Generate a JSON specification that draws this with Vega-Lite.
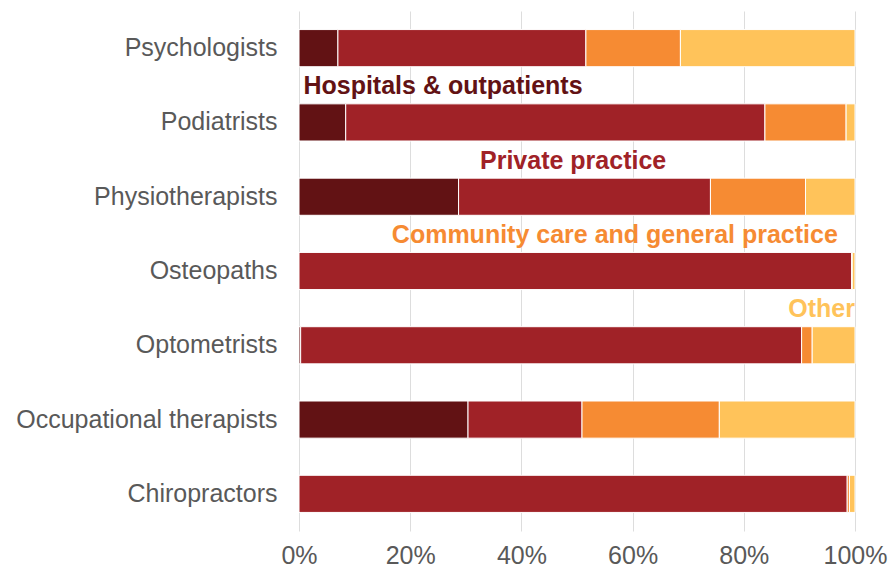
{
  "$schema": "https://vega.github.io/schema/vega-lite/v6.json",
  "width": 556,
  "height": 520,
  "autosize": {"type": "none"},
  "padding": {"left": 299, "top": 11, "right": 35, "bottom": 40},
  "background": "white",
  "config": {
    "view": {"stroke": null},
    "font": "Liberation Sans",
    "axis": {"labelFont": "Liberation Sans", "labelColor": "#595959", "labelFontSize": 25}
  },
  "datasets": {
    "bars": [
      {"profession": "Psychologists", "category": "Hospitals & outpatients", "ord": 1, "value": 7.0},
      {"profession": "Psychologists", "category": "Private practice", "ord": 2, "value": 44.6},
      {"profession": "Psychologists", "category": "Community care and general practice", "ord": 3, "value": 17.0},
      {"profession": "Psychologists", "category": "Other", "ord": 4, "value": 31.4},
      {"profession": "Podiatrists", "category": "Hospitals & outpatients", "ord": 1, "value": 8.4},
      {"profession": "Podiatrists", "category": "Private practice", "ord": 2, "value": 75.4},
      {"profession": "Podiatrists", "category": "Community care and general practice", "ord": 3, "value": 14.6},
      {"profession": "Podiatrists", "category": "Other", "ord": 4, "value": 1.6},
      {"profession": "Physiotherapists", "category": "Hospitals & outpatients", "ord": 1, "value": 28.7},
      {"profession": "Physiotherapists", "category": "Private practice", "ord": 2, "value": 45.3},
      {"profession": "Physiotherapists", "category": "Community care and general practice", "ord": 3, "value": 17.1},
      {"profession": "Physiotherapists", "category": "Other", "ord": 4, "value": 8.9},
      {"profession": "Osteopaths", "category": "Hospitals & outpatients", "ord": 1, "value": 0},
      {"profession": "Osteopaths", "category": "Private practice", "ord": 2, "value": 99.4},
      {"profession": "Osteopaths", "category": "Community care and general practice", "ord": 3, "value": 0.1},
      {"profession": "Osteopaths", "category": "Other", "ord": 4, "value": 0.5},
      {"profession": "Optometrists", "category": "Hospitals & outpatients", "ord": 1, "value": 0.3},
      {"profession": "Optometrists", "category": "Private practice", "ord": 2, "value": 90.1},
      {"profession": "Optometrists", "category": "Community care and general practice", "ord": 3, "value": 1.9},
      {"profession": "Optometrists", "category": "Other", "ord": 4, "value": 7.7},
      {"profession": "Occupational therapists", "category": "Hospitals & outpatients", "ord": 1, "value": 30.4},
      {"profession": "Occupational therapists", "category": "Private practice", "ord": 2, "value": 20.5},
      {"profession": "Occupational therapists", "category": "Community care and general practice", "ord": 3, "value": 24.7},
      {"profession": "Occupational therapists", "category": "Other", "ord": 4, "value": 24.4},
      {"profession": "Chiropractors", "category": "Hospitals & outpatients", "ord": 1, "value": 0},
      {"profession": "Chiropractors", "category": "Private practice", "ord": 2, "value": 98.6},
      {"profession": "Chiropractors", "category": "Community care and general practice", "ord": 3, "value": 0.4},
      {"profession": "Chiropractors", "category": "Other", "ord": 4, "value": 1.0}
    ],
    "labels": [
      {"category": "Hospitals & outpatients", "profession": "Podiatrists", "pos": 25.9},
      {"category": "Private practice", "profession": "Physiotherapists", "pos": 49.3},
      {"category": "Community care and general practice", "profession": "Osteopaths", "pos": 56.8},
      {"category": "Other", "profession": "Optometrists", "pos": 94.0}
    ]
  },
  "layer": [
    {
      "data": {"name": "bars"},
      "mark": {"type": "bar", "stroke": "white", "strokeWidth": 1},
      "encoding": {
        "y": {
          "field": "profession", "type": "nominal",
          "sort": ["Psychologists", "Podiatrists", "Physiotherapists", "Osteopaths", "Optometrists", "Occupational therapists", "Chiropractors"],
          "scale": {"paddingInner": 0.5, "paddingOuter": 0.25},
          "axis": {"title": null, "ticks": false, "domain": false, "labelPadding": 22, "labelFontSize": 25, "labelLimit": 400}
        },
        "x": {
          "field": "value", "type": "quantitative", "stack": "zero",
          "scale": {"domain": [0, 100], "nice": false},
          "axis": {"title": null, "values": [0, 20, 40, 60, 80, 100], "labelExpr": "datum.value + '%'", "ticks": false, "domain": false, "grid": true, "gridColor": "#dddddd", "labelPadding": 12, "labelFontSize": 25, "labelFlush": false}
        },
        "color": {
          "field": "category", "type": "nominal",
          "scale": {"domain": ["Hospitals & outpatients", "Private practice", "Community care and general practice", "Other"], "range": ["#621214", "#a02227", "#f68b33", "#ffc35a"]},
          "legend": null
        },
        "order": {"field": "ord", "type": "quantitative"}
      }
    },
    {
      "data": {"name": "labels"},
      "mark": {"type": "text", "fontWeight": "bold", "fontSize": 25, "align": "center", "baseline": "middle", "dy": 1},
      "encoding": {
        "y": {"field": "profession", "type": "nominal", "bandPosition": -0.5,
          "sort": ["Psychologists", "Podiatrists", "Physiotherapists", "Osteopaths", "Optometrists", "Occupational therapists", "Chiropractors"]},
        "x": {"field": "pos", "type": "quantitative"},
        "text": {"field": "category"},
        "color": {"field": "category", "type": "nominal", "legend": null}
      }
    }
  ]
}
